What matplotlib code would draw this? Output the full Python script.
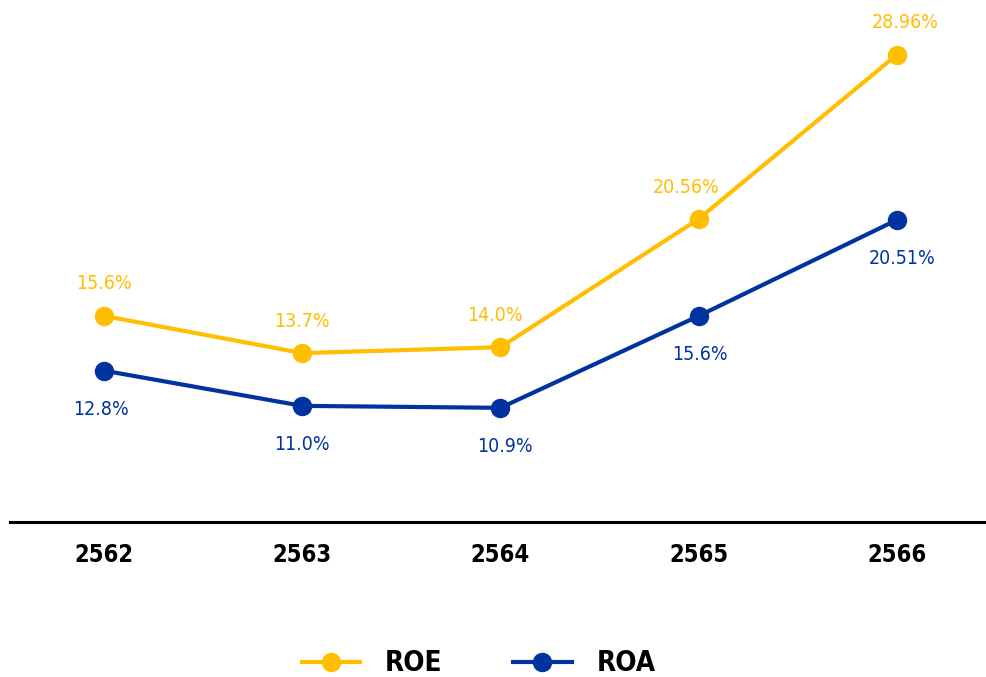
import matplotlib.pyplot as plt

years = ['2562', '2563', '2564', '2565', '2566']
roe = [15.6, 13.7, 14.0, 20.56, 28.96]
roa = [12.8, 11.0, 10.9, 15.6, 20.51]
roe_labels = ['15.6%', '13.7%', '14.0%', '20.56%', '28.96%']
roa_labels = ['12.8%', '11.0%', '10.9%', '15.6%', '20.51%']

yellow = '#FFBE00'
blue = '#0033A0'

fig = plt.figure(figsize=(9.87, 6.77), dpi=100)
ax = fig.add_axes([10 / 987, 1 - 522 / 677, 1 - 10 / 987, 522 / 677])

x = list(range(len(years)))
l1, = ax.plot(x, roe, color=yellow, lw=3, marker='o', ms=13, label='ROE')
l2, = ax.plot(x, roa, color=blue, lw=3, marker='o', ms=13, label='ROA')

# label nudges (points), reading off the original
roe_dx = [0, 0, -4, -9, 6]
roa_dx = [-2, 0, 3, 1, 4]
for i, (v, t) in enumerate(zip(roe, roe_labels)):
    ax.annotate(t, (i, v), xytext=(roe_dx[i], 23), textcoords='offset points',
                ha='center', va='center', color=yellow, fontsize=14,
                fontstretch='condensed')
for i, (v, t) in enumerate(zip(roa, roa_labels)):
    ax.annotate(t, (i, v), xytext=(roa_dx[i], -28), textcoords='offset points',
                ha='center', va='center', color=blue, fontsize=14,
                fontstretch='condensed')

ax.set_xlim(-0.475, 4.455)
ax.set_ylim(5.06, 31.76)
for s in ['top', 'right', 'left']:
    ax.spines[s].set_visible(False)
ax.spines['bottom'].set_linewidth(2.2)
ax.spines['bottom'].set_color('black')
ax.set_yticks([])
ax.set_xticks(x)
ax.set_xticklabels(years, fontsize=17, fontweight='bold', fontstretch='condensed')
ax.tick_params(axis='x', length=0, pad=15)

fig.legend(handles=[l1, l2], loc='center', bbox_to_anchor=(0.485, 0.02),
           ncol=2, frameon=False, handlelength=2.1, handletextpad=0.9,
           columnspacing=2.55,
           prop={'weight': 'bold', 'size': 20, 'stretch': 'condensed'})

fig.savefig('out.png', dpi=100)
